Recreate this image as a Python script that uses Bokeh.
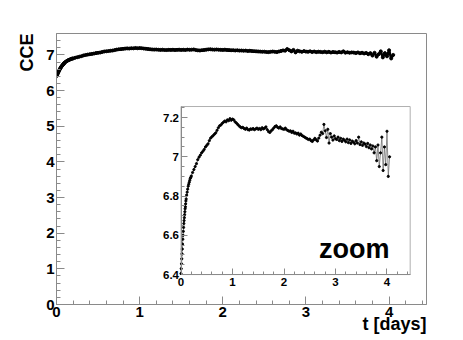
from bokeh.plotting import figure
from bokeh.models import (Range1d, LinearAxis, SingleIntervalTicker,
                          CustomJSTickFormatter, Label, Title)
from bokeh.embed import file_html
from bokeh.resources import INLINE

# ---------------- data ----------------
t_days = [
    0.000, 0.005, 0.010, 0.015, 0.020, 0.025, 0.030, 0.035, 0.040, 0.045,
    0.050, 0.055, 0.060, 0.065, 0.070, 0.075, 0.080, 0.085, 0.090, 0.095,
    0.100, 0.110, 0.120, 0.130, 0.140, 0.150, 0.160, 0.170, 0.180, 0.190,
    0.200,
    0.225, 0.250, 0.275, 0.300, 0.325, 0.350, 0.375, 0.400,
    0.425, 0.450, 0.475, 0.500, 0.525, 0.550, 0.575, 0.600,
    0.625, 0.650, 0.675, 0.700, 0.725, 0.750, 0.775, 0.800,
    0.825, 0.850, 0.875, 0.900, 0.925, 0.950, 0.975, 1.000,
    1.025, 1.050, 1.075, 1.100, 1.125, 1.150, 1.175, 1.200,
    1.225, 1.250, 1.275, 1.300, 1.325, 1.350, 1.375, 1.400,
    1.425, 1.450, 1.475, 1.500, 1.525, 1.550, 1.575, 1.600,
    1.625, 1.650, 1.675, 1.700, 1.725, 1.750, 1.775, 1.800,
    1.825, 1.850, 1.875, 1.900, 1.925, 1.950, 1.975, 2.000,
    2.025, 2.050, 2.075, 2.100, 2.125, 2.150, 2.175, 2.200,
    2.225, 2.250, 2.275, 2.300, 2.325, 2.350, 2.375, 2.400,
    2.425, 2.450, 2.475, 2.500, 2.525, 2.550, 2.575, 2.600,
    2.625, 2.650, 2.675, 2.700, 2.725, 2.750, 2.775, 2.800,
    2.825, 2.850, 2.875, 2.900, 2.925, 2.950, 2.975, 3.000,
    3.025, 3.050, 3.075, 3.100, 3.125, 3.150, 3.175, 3.200,
    3.225, 3.250, 3.275, 3.300, 3.325, 3.350, 3.375, 3.400,
    3.425, 3.450, 3.475, 3.500, 3.525, 3.550, 3.575, 3.600,
    3.625, 3.650, 3.675, 3.700, 3.725, 3.750, 3.775, 3.800,
    3.825, 3.850, 3.875, 3.900, 3.925, 3.950, 3.975, 4.000,
    4.025, 4.050,
]
cce = [
    6.405, 6.430, 6.455, 6.480, 6.505, 6.530, 6.555, 6.580, 6.600, 6.620,
    6.640, 6.660, 6.675, 6.690, 6.705, 6.720, 6.735, 6.745, 6.760, 6.775,
    6.785, 6.805, 6.820, 6.835, 6.850, 6.860, 6.870, 6.880, 6.890, 6.895,
    6.902,
    6.920, 6.935, 6.950, 6.965, 6.985, 6.998, 7.008, 7.020,
    7.028, 7.037, 7.050, 7.058, 7.066, 7.082, 7.095, 7.102,
    7.108, 7.115, 7.122, 7.135, 7.148, 7.158, 7.162, 7.170,
    7.176, 7.182, 7.178, 7.188, 7.184, 7.194, 7.186, 7.192,
    7.188, 7.178, 7.172, 7.165, 7.158, 7.152, 7.148, 7.150,
    7.144, 7.140, 7.146, 7.138, 7.136, 7.142, 7.140, 7.144,
    7.138, 7.142, 7.146, 7.140, 7.144, 7.138, 7.148, 7.142,
    7.146, 7.152, 7.138, 7.128, 7.124, 7.132, 7.138, 7.146,
    7.154, 7.158, 7.150, 7.146, 7.152, 7.144, 7.142, 7.140,
    7.146, 7.138, 7.134, 7.130, 7.132, 7.124, 7.130, 7.120,
    7.122, 7.116, 7.120, 7.110, 7.116, 7.108, 7.104, 7.100,
    7.096, 7.092, 7.088, 7.090, 7.082, 7.078, 7.086, 7.094,
    7.086, 7.080, 7.095, 7.110, 7.125, 7.118, 7.165, 7.132,
    7.098, 7.140, 7.070, 7.118, 7.100, 7.085, 7.106, 7.092,
    7.088, 7.100, 7.082, 7.094, 7.078, 7.090, 7.084, 7.076,
    7.090, 7.072, 7.086, 7.068, 7.080, 7.074, 7.066, 7.082,
    7.070, 7.100, 7.062, 7.076, 7.058, 7.070, 7.064, 7.052,
    7.068, 7.046, 7.060, 7.040, 7.055, 7.020, 7.050, 6.980,
    7.060, 6.950, 7.020, 7.100, 6.930, 7.050, 6.960, 7.130,
    6.900, 7.000,
]
assert len(t_days) == len(cce)

x_title = "t [days]"
y_title = "CCE"
inset_title = "zoom"

# ---------------- layout constants ----------------
X_MAX = 4.45          # main & inset x range end
Y_MAX = 7.6           # main y range end
INSET_Y0, INSET_Y1 = 6.4, 7.256
# inset ranges expressed over the whole main frame (frame px: 370 x 271)
IX0, IX1 = -2.4175, 4.767
IY0, IY1 = 6.2475, 7.628

FONT = "Liberation Sans"
GRAY = "#8a8a8a"
fmt = CustomJSTickFormatter(code="return String(Number(tick.toFixed(2)));")

p = figure(width=463, height=340, output_backend="svg", toolbar_location=None,
           x_range=Range1d(0, X_MAX), y_range=Range1d(0, Y_MAX),
           min_border_left=56, min_border_right=37,
           min_border_top=33, min_border_bottom=36)
p.extra_x_ranges = {"ix": Range1d(IX0, IX1)}
p.extra_y_ranges = {"iy": Range1d(IY0, IY1)}
p.xgrid.visible = False
p.ygrid.visible = False
p.outline_line_color = GRAY
p.outline_line_width = 1
p.background_fill_color = "white"
p.border_fill_color = "white"


def style_axis(ax, size, standoff):
    ax.axis_line_color = GRAY
    ax.major_tick_line_color = GRAY
    ax.minor_tick_line_color = GRAY
    ax.major_tick_in = 8 if size > 12 else 6
    ax.major_tick_out = 0
    ax.minor_tick_in = 4 if size > 12 else 3
    ax.minor_tick_out = 0
    ax.major_label_text_font = FONT
    ax.major_label_text_font_style = "bold"
    ax.major_label_text_font_size = f"{size}px"
    ax.major_label_text_color = "black"
    ax.major_label_standoff = standoff
    ax.formatter = fmt


xax = p.xaxis[0]
yax = p.yaxis[0]
xax.ticker = SingleIntervalTicker(interval=1, num_minor_ticks=5)
yax.ticker = SingleIntervalTicker(interval=1, num_minor_ticks=5)
style_axis(xax, 15, 2)
style_axis(yax, 15, 2)

# axis titles (ROOT style: at the end of each axis)
p.add_layout(Title(text=x_title, align="right", offset=0, standoff=-11,
                   vertical_align="top", text_font=FONT,
                   text_font_style="bold", text_font_size="18px",
                   text_color="black"), "below")
p.add_layout(Title(text=y_title, align="right", offset=0, standoff=14,
                   vertical_align="bottom", text_font=FONT,
                   text_font_style="bold", text_font_size="18px",
                   text_color="black"), "left")

# main curve
p.line(t_days, cce, line_color="black", line_width=2.6)
p.scatter(t_days, cce, size=3, color="black")

# inset box
p.quad(left=[0], right=[X_MAX], bottom=[INSET_Y0], top=[INSET_Y1],
       x_range_name="ix", y_range_name="iy",
       fill_color="white", line_color="#b0b0b0", line_width=1)

# inset curve
p.line(t_days, cce, x_range_name="ix", y_range_name="iy",
       line_color="#707070", line_width=0.8)
p.scatter(t_days, cce, x_range_name="ix", y_range_name="iy",
          size=2.2, color="black")

# inset axes
ixax = LinearAxis(x_range_name="ix", y_range_name="iy", fixed_location=INSET_Y0,
                  bounds=(0, X_MAX),
                  ticker=SingleIntervalTicker(interval=1, num_minor_ticks=5))
style_axis(ixax, 11.5, 3)
p.add_layout(ixax, "below")
iyax = LinearAxis(x_range_name="ix", y_range_name="iy", fixed_location=0,
                  bounds=(INSET_Y0, INSET_Y1),
                  ticker=SingleIntervalTicker(interval=0.2, num_minor_ticks=4))
style_axis(iyax, 11.5, 2)
p.add_layout(iyax, "left")

p.add_layout(Label(x=2.68, y=6.53, x_range_name="ix", y_range_name="iy",
                   text=inset_title, text_align="left",
                   text_baseline="alphabetic", text_font=FONT,
                   text_font_style="bold", text_font_size="27px",
                   text_color="black"))

open("out.html", "w").write(file_html(p, INLINE))
